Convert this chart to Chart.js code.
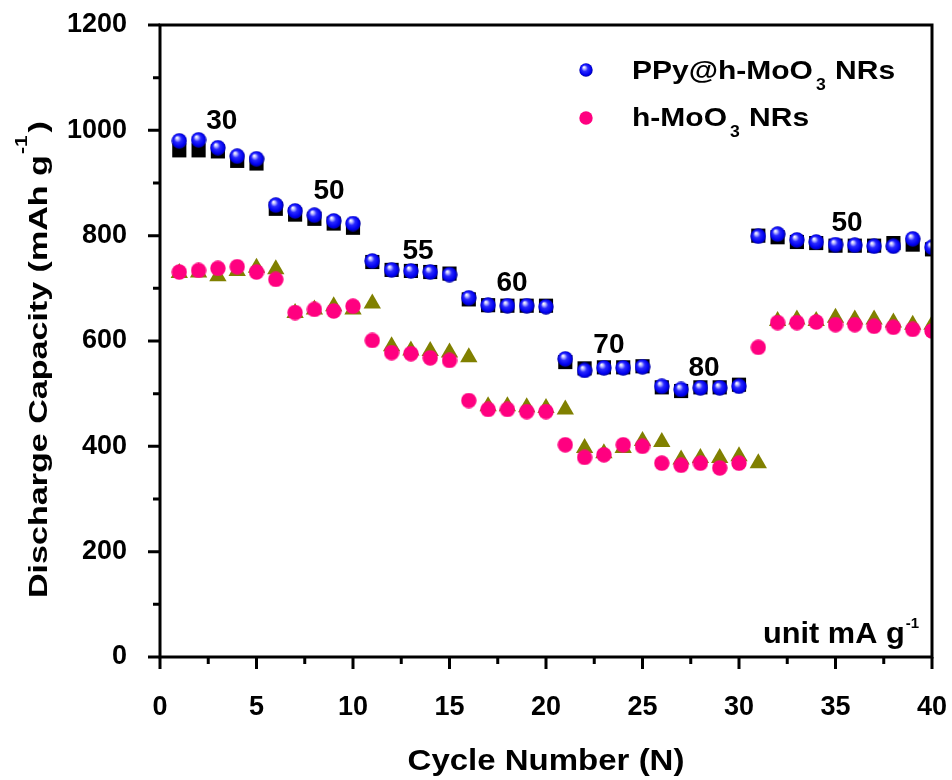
<!DOCTYPE html>
<html>
<head>
<meta charset="utf-8">
<script src="https://cdn.jsdelivr.net/npm/chart.js@4/dist/chart.umd.min.js"></script>
<style>
html, body { margin: 0; padding: 0; background: #fff; }
#wrap { width: 952px; height: 780px; }
</style>
</head>
<body>
<div id="wrap"><canvas id="rate-chart"></canvas></div>
<script>
// cycle numbers
var cycles = [1, 2, 3, 4, 5, 6, 7, 8, 9, 10,
              11, 12, 13, 14, 15, 16, 17, 18, 19, 20,
              21, 22, 23, 24, 25, 26, 27, 28, 29, 30,
              31, 32, 33, 34, 35, 36, 37, 38, 39, 40];

// PPy@h-MoO3 NRs (blue spheres) and its companion black squares
var ppyBlue = [980, 982, 967, 951, 946, 858, 847, 839, 828, 823,
               752, 735, 733, 731, 726, 682, 668, 667, 667, 665,
               566, 544, 549, 549, 551, 514, 508, 511, 511, 514,
               799, 803, 792, 788, 783, 782, 780, 780, 794, 778];
var ppyBlack = [962, 962, 960, 942, 937, 851, 840, 832, 823, 815,
                750, 735, 733, 731, 728, 679, 668, 667, 667, 667,
                560, 548, 550, 550, 552, 512, 505, 512, 512, 517,
                800, 797, 788, 786, 781, 781, 781, 786, 783, 774];

// h-MoO3 NRs (pink circles) and its companion olive triangles
var moPink = [731, 734, 738, 741, 731, 717, 654, 660, 657, 666,
              601, 578, 576, 568, 563, 487, 470, 470, 466, 466,
              403, 379, 384, 403, 400, 368, 364, 368, 359, 368,
              588, 635, 635, 636, 631, 631, 628, 626, 622, 619];
var moOlive = [729, 730, 723, 733, 739, 736, 653, 660, 666, 660,
               671, 590, 582, 581, 578, 569, 476, 476, 474, 473,
               470, 397, 387, 397, 410, 408, 375, 378, 378, 381,
               368, 638, 641, 638, 644, 641, 641, 635, 631, 631];

// axis ticks
var yTicks = [0, 200, 400, 600, 800, 1000, 1200];
var xTicks = [0, 5, 10, 15, 20, 25, 30, 35, 40];

// current density labels, anchored at (cycle, capacity)
var rateText = ['30', '50', '55', '60', '70', '80', '50'];
var rateCycle = [3.2, 8.76, 13.37, 18.24, 23.26, 28.19, 35.6];
var rateCap = [1002, 869, 756, 694, 578, 534, 809];

var FONT = '"Liberation Sans", Arial, sans-serif';

function toPoints(ys) {
    return cycles.map(function (c, i) { return { x: c, y: ys[i] }; });
}

function sphere(d) {
    var c = document.createElement('canvas');
    c.width = d; c.height = d;
    var g = c.getContext('2d');
    var r = d / 2;
    var grad = g.createRadialGradient(r * 0.7, r * 0.6, 0.3, r, r, r);
    grad.addColorStop(0, '#ffffff');
    grad.addColorStop(0.18, '#b4b4ff');
    grad.addColorStop(0.42, '#2a2aff');
    grad.addColorStop(0.8, '#0000ee');
    grad.addColorStop(1, '#00009a');
    g.fillStyle = grad;
    g.beginPath();
    g.arc(r, r, r - 0.3, 0, Math.PI * 2);
    g.fill();
    return c;
}

function dot(d, color) {
    var c = document.createElement('canvas');
    c.width = d; c.height = d;
    var g = c.getContext('2d');
    g.fillStyle = color;
    g.beginPath();
    g.arc(d / 2, d / 2, d / 2 - 0.3, 0, Math.PI * 2);
    g.fill();
    return c;
}

var blueBall = sphere(16);
var pinkBall = dot(16, '#ff0080');
var blueSmall = sphere(14);
var pinkSmall = dot(14, '#ff0080');

// bold text, optionally stretched along its own direction
function word(ctx, s, x, y, size, sx) {
    ctx.save();
    ctx.font = 'bold ' + size + 'px ' + FONT;
    ctx.textBaseline = 'alphabetic';
    ctx.textAlign = 'left';
    ctx.translate(x, y);
    ctx.scale(sx, 1);
    ctx.fillText(s, 0, 0);
    var w = ctx.measureText(s).width * sx;
    ctx.restore();
    return w;
}

var decor = {
    id: 'decor',
    afterDraw: function (chart) {
        var ctx = chart.ctx, ca = chart.chartArea;
        var xs = chart.scales.x, ys = chart.scales.y;
        ctx.save();
        ctx.fillStyle = '#000';
        ctx.strokeStyle = '#000';

        // frame
        ctx.lineWidth = 3;
        ctx.strokeRect(ca.left, ca.top, ca.right - ca.left, ca.bottom - ca.top);

        // ticks, major and minor, pointing out
        ctx.beginPath();
        for (var v = 0; v <= 1200; v += 100) {
            var py = ys.getPixelForValue(v);
            var len = v % 200 === 0 ? 12 : 7;
            ctx.moveTo(ca.left, py); ctx.lineTo(ca.left - len, py);
        }
        for (var n = 0; n <= 40; n += 2.5) {
            var px = xs.getPixelForValue(n);
            var l2 = n % 5 === 0 ? 12 : 7;
            ctx.moveTo(px, ca.bottom); ctx.lineTo(px, ca.bottom + l2);
        }
        ctx.stroke();

        // rate labels
        ctx.font = 'bold 28px ' + FONT;
        ctx.textAlign = 'center';
        ctx.textBaseline = 'alphabetic';
        rateText.forEach(function (t, i) {
            ctx.fillText(t, xs.getPixelForValue(rateCycle[i]), ys.getPixelForValue(rateCap[i]));
        });

        // unit note
        var ux = ca.right - 169, ub = ca.bottom - 14;
        var uw = word(ctx, 'unit mA g', ux, ub, 29, 1.06);
        word(ctx, '-1', ux + uw + 1, ub - 15, 15, 1);

        // legend
        ctx.drawImage(blueSmall, 586 - 7, 70 - 7);
        ctx.drawImage(pinkSmall, 586 - 7, 118 - 7);
        var x1 = 632, b1 = 79;
        x1 += word(ctx, 'PPy@h-MoO', x1, b1, 25, 1.2);
        x1 += word(ctx, '3', x1 + 3, b1 + 11, 16, 1.1) + 3;
        word(ctx, ' NRs', x1 + 1, b1, 25, 1.2);
        var x2 = 632, b2 = 126;
        x2 += word(ctx, 'h-MoO', x2, b2, 25, 1.2);
        x2 += word(ctx, '3', x2 + 3, b2 + 11, 16, 1.1) + 3;
        word(ctx, ' NRs', x2 + 1, b2, 25, 1.2);

        // x title
        ctx.save();
        ctx.font = 'bold 30px ' + FONT;
        var xt = 'Cycle Number (N)';
        var xw = ctx.measureText(xt).width * 1.1;
        ctx.restore();
        word(ctx, xt, (ca.left + ca.right) / 2 - xw / 2, 770, 30, 1.1);

        // y title, rotated
        ctx.save();
        ctx.translate(47, 598);
        ctx.rotate(-Math.PI / 2);
        var p = word(ctx, 'Discharge Capacity (mAh g', 0, 0, 26, 1.31);
        p += word(ctx, '-1', p + 1, -20, 16, 1.31) + 1;
        word(ctx, ')', p + 3, 0, 26, 1.31);
        ctx.restore();

        ctx.restore();
    }
};

var edgeClip = { left: false, top: false, right: 0, bottom: false };

function noPad(s) {
    s.paddingTop = 0; s.paddingBottom = 0;
    s.paddingLeft = 0; s.paddingRight = 0;
}

new Chart(document.getElementById('rate-chart'), {
    type: 'scatter',
    data: {
        datasets: [
            {
                label: 'PPy@h-MoO3 NRs',
                data: toPoints(ppyBlue),
                pointStyle: blueBall,
                order: 0,
                clip: edgeClip
            }, {
                label: 'h-MoO3 NRs',
                data: toPoints(moPink),
                pointStyle: pinkBall,
                order: 1,
                clip: edgeClip
            }, {
                label: 'PPy@h-MoO3 NRs (squares)',
                data: toPoints(ppyBlack),
                pointStyle: 'rect',
                pointRadius: 10,
                backgroundColor: '#000',
                borderColor: '#000',
                borderWidth: 0,
                order: 2,
                clip: edgeClip
            }, {
                label: 'h-MoO3 NRs (triangles)',
                data: toPoints(moOlive),
                pointStyle: 'triangle',
                pointRadius: 10,
                backgroundColor: '#808000',
                borderColor: '#808000',
                borderWidth: 0,
                order: 3,
                clip: edgeClip
            }
        ]
    },
    options: {
        responsive: true,
        maintainAspectRatio: false,
        animation: false,
        layout: { padding: { top: 25, right: 20, left: 0, bottom: 0 } },
        plugins: {
            legend: { display: false },
            tooltip: { enabled: false }
        },
        scales: {
            x: {
                type: 'linear',
                min: 0, max: 40,
                afterBuildTicks: function (s) { s.ticks = xTicks.map(function (v) { return { value: v }; }); },
                afterFit: function (s) { s.height = 123; noPad(s); },
                grid: { display: false, drawTicks: false },
                border: { display: false },
                ticks: {
                    color: '#000', padding: 34,
                    font: { family: FONT, size: 27, weight: 'bold' },
                    callback: function (v) { return String(v); }
                }
            },
            y: {
                type: 'linear',
                min: 0, max: 1200,
                afterBuildTicks: function (s) { s.ticks = yTicks.map(function (v) { return { value: v }; }); },
                afterFit: function (s) { s.width = 160; noPad(s); },
                grid: { display: false, drawTicks: false },
                border: { display: false },
                ticks: {
                    color: '#000', padding: 33,
                    font: { family: FONT, size: 27, weight: 'bold' },
                    callback: function (v) { return String(v); }
                }
            }
        }
    },
    plugins: [decor]
});
</script>
</body>
</html>
